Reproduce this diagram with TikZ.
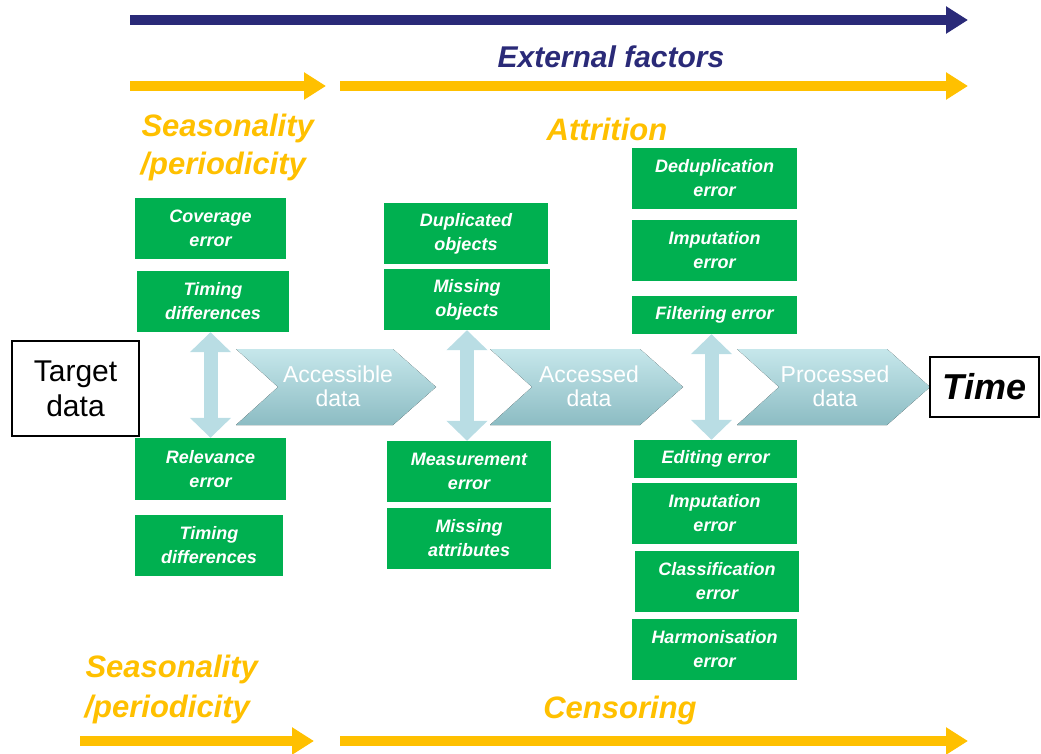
\documentclass[tikz,border=0pt]{standalone}
\usepackage{fontspec}
\setmainfont{Liberation Sans}
\usetikzlibrary{arrows.meta}
\definecolor{navy}{HTML}{2A2A78}
\definecolor{amber}{HTML}{FFC000}
\definecolor{leaf}{HTML}{00B050}
\definecolor{pale}{HTML}{B9DDE4}
\definecolor{chevtop}{HTML}{C6E7EB}
\definecolor{chevbot}{HTML}{8CBCC3}
\begin{document}
\begin{tikzpicture}[x=1pt,y=-1pt,
  gbox/.style={fill=leaf, text=white, inner sep=0pt, align=center,
    font=\fontsize{18}{24}\selectfont\bfseries\itshape},
  framebox/.style={draw=black, line width=2pt, fill=white, inner sep=0pt, align=center},
  timeline/.style={line width=10pt, -{Triangle[width=26pt,length=22pt]}},
  twoway/.style={draw=pale, line width=14pt,
    {Triangle[width=40pt,length=20pt]}-{Triangle[width=40pt,length=20pt]}},
  chevron/.style={top color=chevtop, bottom color=chevbot, draw=none},
  chevtext/.style={text=white, align=center, font=\fontsize{23}{24}\selectfont},
  factor/.style={text=amber, font=\fontsize{31}{38}\selectfont\bfseries\itshape},
]
\useasboundingbox (0,0) rectangle (1041,754);

% --- time lines ---
\coordinate (n0) at (130,20);  \coordinate (n1) at (968,20);
\coordinate (t0) at (130,86);  \coordinate (t1) at (326,86);
\coordinate (t2) at (340,86);  \coordinate (t3) at (968,86);
\coordinate (b0) at (80,741);  \coordinate (b1) at (314,741);
\coordinate (b2) at (340,741); \coordinate (b3) at (968,741);
\draw[timeline, navy] (n0) -- (n1);
\draw[timeline, amber] (t0) -- (t1);
\draw[timeline, amber] (t2) -- (t3);
\draw[timeline, amber] (b0) -- (b1);
\draw[timeline, amber] (b2) -- (b3);

% --- factor labels ---
\node[text=navy, font=\fontsize{30}{36}\selectfont\bfseries\itshape] (ext) at (611,57) {External factors};
\node[factor, anchor=west] (seas1) at (138,128) {Seasonality};
\node[factor, anchor=west] (per1) at (137,166) {/periodicity};
\node[factor] (attr) at (607,129) {Attrition};
\node[factor, anchor=west] (seas2) at (82,669) {Seasonality};
\node[factor, anchor=west] (per2) at (81,709) {/periodicity};
\node[factor] (cens) at (620,710) {Censoring};

% --- chevrons ---
\fill[chevron] (236,349) -- (393,349) -- (436,387) -- (393,425) -- (236,425) -- (278,387) -- cycle;
\fill[chevron] (490,349) -- (640,349) -- (683,387) -- (640,425) -- (490,425) -- (532,387) -- cycle;
\fill[chevron] (737,349) -- (887,349) -- (930,387) -- (887,425) -- (737,425) -- (779,387) -- cycle;
\node[chevtext] (acc) at (338,386) {Accessible\\data};
\node[chevtext] (accd) at (589,386) {Accessed\\data};
\node[chevtext] (proc) at (835,386) {Processed\\data};

% --- end boxes ---
\node[framebox, minimum width=127pt, minimum height=95pt,
  font=\fontsize{30}{35}\selectfont] (target) at (75.5,388.5) {Target\\data};
\node[framebox, minimum width=109pt, minimum height=60pt,
  font=\fontsize{36}{40}\selectfont\bfseries\itshape] (time) at (984.5,387) {Time};

% --- error sources: first stage ---
\node[gbox, minimum width=151pt, minimum height=61pt] (cov) at (210.5,228.5) {Coverage\\error};
\node[gbox, minimum width=152pt, minimum height=61pt] (tim1) at (213,301.5) {Timing\\differences};
\node[gbox, minimum width=151pt, minimum height=62pt] (rel) at (210.5,469) {Relevance\\error};
\node[gbox, minimum width=148pt, minimum height=61pt] (tim2) at (209,545.5) {Timing\\differences};

% --- error sources: second stage ---
\node[gbox, minimum width=164pt, minimum height=61pt] (dup) at (466,233.5) {Duplicated\\objects};
\node[gbox, minimum width=166pt, minimum height=61pt] (mobj) at (467,299.5) {Missing\\objects};
\node[gbox, minimum width=164pt, minimum height=61pt] (meas) at (469,471.5) {Measurement\\error};
\node[gbox, minimum width=164pt, minimum height=61pt] (matt) at (469,538.5) {Missing\\attributes};

% --- error sources: third stage ---
\node[gbox, minimum width=165pt, minimum height=61pt] (dedup) at (714.5,178.5) {Deduplication\\error};
\node[gbox, minimum width=165pt, minimum height=61pt] (imp1) at (714.5,250.5) {Imputation\\error};
\node[gbox, minimum width=165pt, minimum height=38pt] (filt) at (714.5,315) {Filtering error};
\node[gbox, minimum width=163pt, minimum height=38pt] (edit) at (715.5,459) {Editing error};
\node[gbox, minimum width=165pt, minimum height=61pt] (imp2) at (714.5,513.5) {Imputation\\error};
\node[gbox, minimum width=164pt, minimum height=61pt] (class) at (717,581.5) {Classification\\error};
\node[gbox, minimum width=165pt, minimum height=61pt] (harm) at (714.5,649.5) {Harmonisation\\error};

% --- two-way links between sources ---
\draw[twoway] (tim1.south -| rel.north) -- (rel.north);
\draw[twoway] (mobj.south) -- (meas.north -| mobj.south);
\draw[twoway] ([xshift=-3pt]filt.south) -- ([xshift=-3pt]filt.south |- edit.north);
\end{tikzpicture}
\end{document}
